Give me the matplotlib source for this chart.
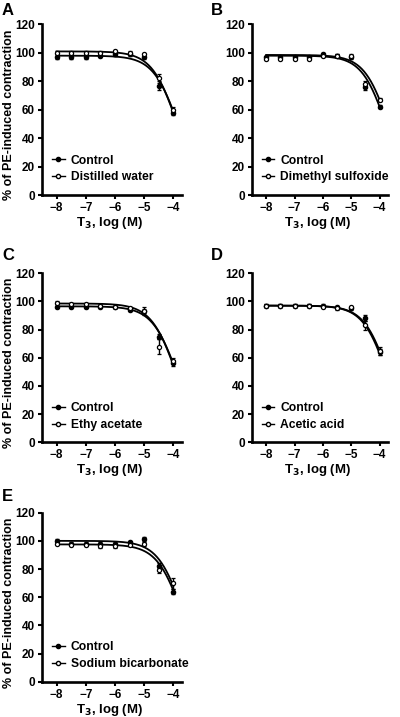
# Concentration-response curves of T3 on PE-induced contraction, five solvent panels.

import numpy as np
import matplotlib
matplotlib.use('Agg')
import matplotlib.pyplot as plt
from matplotlib.lines import Line2D

plt.rcParams['font.family'] = ['Liberation Sans', 'DejaVu Sans']
plt.rcParams['font.weight'] = 'bold'

# Data
log_conc = [-8, -7.5, -7, -6.5, -6, -5.5, -5, -4.5, -4]
panel_letters = ['A', 'B', 'C', 'D', 'E']
solvent_names = ['Distilled water', 'Dimethyl sulfoxide', 'Ethy acetate',
                 'Acetic acid', 'Sodium bicarbonate']

control_vals = [
    [97, 97, 97, 98, 99, 99, 97, 77, 58],
    [97, 97, 97, 97, 99, 98, 97, 76, 62],
    [96, 96, 96, 96, 96, 94, 93, 75, 56],
    [97, 97, 97, 97, 97, 96, 95, 88, 64],
    [100, 98, 98, 98, 98, 99, 101, 82, 64],
]
control_err = [
    [1, 1, 1, 1, 1, 1, 1, 3, 2],
    [1, 1, 1, 1, 1, 1, 1, 2, 1],
    [1, 1, 1, 1, 1, 1, 1, 2, 2],
    [1, 1, 1, 1, 1, 1, 1, 2, 2],
    [1, 1, 1, 1, 1, 1, 2, 2, 2],
]
solvent_vals = [
    [100, 100, 100, 100, 101, 100, 99, 82, 60],
    [96, 96, 96, 96, 98, 98, 98, 78, 67],
    [99, 98, 98, 97, 96, 95, 93, 68, 58],
    [97, 97, 97, 97, 96, 95, 96, 83, 65],
    [98, 97, 97, 96, 96, 97, 98, 79, 70],
]
solvent_err = [
    [1, 1, 1, 1, 1, 1, 1, 3, 2],
    [1, 1, 1, 1, 1, 1, 1, 2, 1],
    [1, 1, 1, 1, 1, 1, 3, 5, 2],
    [1, 1, 1, 1, 1, 1, 1, 3, 3],
    [1, 1, 1, 1, 1, 1, 2, 2, 4],
]

# Sigmoid fit parameters (top, logEC50) for each panel, hill slope 1, bottom 0
control_fit = [(98, -3.82), (98, -3.76), (96.5, -3.86), (97, -3.69), (97.5, -3.70)]
solvent_fit = [(101, -3.87), (98.5, -3.67), (98.5, -3.90), (97, -3.73), (100, -3.67)]


def sigmoid(x, top, logec50):
    return top / (1 + 10 ** (x - logec50))


fig = plt.figure(figsize=(4, 7.17), dpi=100)

# axes positions in figure fractions
positions = [
    (0.105, 0.728, 0.35, 0.238),
    (0.63, 0.728, 0.34, 0.238),
    (0.105, 0.383, 0.35, 0.236),
    (0.63, 0.383, 0.34, 0.236),
    (0.105, 0.049, 0.35, 0.236),
]
letter_pos = [(0.005, 0.985), (0.528, 0.985), (0.005, 0.643), (0.528, 0.643), (0.005, 0.308)]

xfit = np.linspace(-8, -4, 200)

for i in range(5):
    ax = fig.add_axes(positions[i])
    ax.errorbar(log_conc, control_vals[i], yerr=control_err[i], fmt='o', color='black',
                markersize=3, elinewidth=1, capsize=1.5, capthick=1)
    ax.errorbar(log_conc, solvent_vals[i], yerr=solvent_err[i], fmt='o', color='black',
                markerfacecolor='white', markersize=3, markeredgewidth=0.9,
                elinewidth=1, capsize=1.5, capthick=1)
    ax.plot(xfit, sigmoid(xfit, *control_fit[i]), color='black', lw=1.3)
    ax.plot(xfit, sigmoid(xfit, *solvent_fit[i]), color='black', lw=1.3)

    ax.set_xlim(-8.5, -3.7)
    ax.set_ylim(0, 120)
    ax.set_xticks([-8, -7, -6, -5, -4])
    ax.set_yticks([0, 20, 40, 60, 80, 100, 120])
    ax.spines['top'].set_visible(False)
    ax.spines['right'].set_visible(False)
    ax.spines['left'].set_linewidth(1.9)
    ax.spines['bottom'].set_linewidth(1.9)
    ax.tick_params(width=1.5, length=3, labelsize=8.5, pad=2)
    for lab in ax.get_xticklabels() + ax.get_yticklabels():
        lab.set_fontweight('bold')

    ax.set_xlabel('T$_3$, log (M)', fontsize=9.5, fontweight='bold')
    ax.xaxis.set_label_coords(0.48, -0.118)
    if i in (0, 2, 4):
        ax.set_ylabel('% of PE-induced contraction', fontsize=9, fontweight='bold')
        ax.yaxis.set_label_coords(-0.195, 0.47)

    handles = [
        Line2D([], [], color='black', marker='o', markersize=3, lw=1),
        Line2D([], [], color='black', marker='o', markersize=3, markerfacecolor='white', lw=1),
    ]
    ax.legend(handles, ['Control', solvent_names[i]], loc='lower left',
              bbox_to_anchor=(0.04, 0.04), frameon=False, handlelength=1.0,
              handletextpad=0.5, labelspacing=0.4, borderaxespad=0,
              prop={'weight': 'bold', 'size': 8.7})

    fig.text(letter_pos[i][0], letter_pos[i][1], panel_letters[i], fontsize=12,
             fontweight='bold', va='center', ha='left')

fig.savefig('out.png', dpi=100)
